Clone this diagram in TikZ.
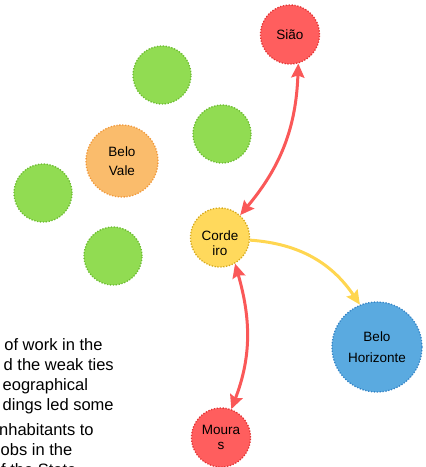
\documentclass[tikz,border=0pt]{standalone}
\usepackage{fontspec}
\setmainfont{Liberation Sans}
\usetikzlibrary{arrows.meta}

\definecolor{redfill}{RGB}{255,94,94}
\definecolor{redline}{RGB}{226,52,52}
\definecolor{greenfill}{RGB}{145,220,82}
\definecolor{greenline}{RGB}{108,188,48}
\definecolor{orangefill}{RGB}{250,188,108}
\definecolor{orangeline}{RGB}{240,152,58}
\definecolor{yellowfill}{RGB}{255,217,92}
\definecolor{yellowline}{RGB}{212,168,28}
\definecolor{bluefill}{RGB}{90,170,224}
\definecolor{blueline}{RGB}{52,132,198}
\definecolor{rededge}{RGB}{250,88,88}
\definecolor{yellowedge}{RGB}{255,214,80}

\tikzset{
  place/.style={circle, inner sep=0pt, line width=1.3pt,
    dash pattern=on 1.3pt off 1.6pt, align=center,
    font=\fontsize{13.5}{15}\selectfont},
  town/.style={place, minimum size=59pt},
  redtown/.style={town, fill=redfill, draw=redline},
  greentown/.style={town, minimum size=58pt, fill=greenfill, draw=greenline},
  twoway/.style={line width=3pt, draw=rededge, {Stealth[length=14pt,width=13pt,inset=2pt]}-{Stealth[length=14pt,width=13pt,inset=2pt]}},
  oneway/.style={line width=3pt, draw=yellowedge, -{Stealth[length=14pt,width=13pt,inset=2pt]}},
  para/.style={anchor=base west, inner sep=0pt, font=\fontsize{16.5}{20}\selectfont},
}

\begin{document}
\begin{tikzpicture}[x=1pt,y=1pt]
\useasboundingbox (0,0) rectangle (426,-467);
\clip (0,0) rectangle (426,-467);

% towns
\node[redtown] (siao) at (290,-34.5) {Sião};
\node[greentown] (g1) at (162,-75) {};
\node[greentown] (g2) at (222,-134) {};
\node[place, minimum size=72pt, fill=orangefill, draw=orangeline,
      font=\fontsize{13.5}{19.5}\selectfont] (bvale) at (122,-161) {Belo\\Vale};
\node[greentown] (g3) at (43,-193) {};
\node[greentown] (g4) at (113,-256) {};
\node[town, fill=yellowfill, draw=yellowline,
      label={[font=\fontsize{13.5}{15}\selectfont, align=center, yshift=-6pt]center:Corde\\iro}] (cord) at (220,-237.5) {};
\node[place, minimum size=90pt, fill=bluefill, draw=blueline,
      font=\fontsize{13.5}{21}\selectfont] (bh) at (377,-347) {Belo\\Horizonte};
\node[redtown] (mouras) at (221,-437.5) {Moura\\s};

% links
\draw[twoway] (cord.48) to[out=50,in=-92] (siao.-74);
\draw[oneway] (cord.-5) to[out=-4,in=124] (bh.112);
\draw[twoway] (cord.-60) to[out=-74,in=69] (mouras.70);

% text running in from the left
\node[para] (l1) at (-5,-350) {t of work in the};
\node[para] (l2) at (3.5,-370) {d the weak ties};
\node[para] (l3) at (2.5,-390) {eographical};
\node[para] (l4) at (2.5,-410) {dings led some};
\node[para] (l5) at (-1,-435) {nhabitants to};
\node[para] (l6) at (0.5,-455) {obs in the};
\node[para] (l7) at (1,-475) {f the State};
\end{tikzpicture}
\end{document}
